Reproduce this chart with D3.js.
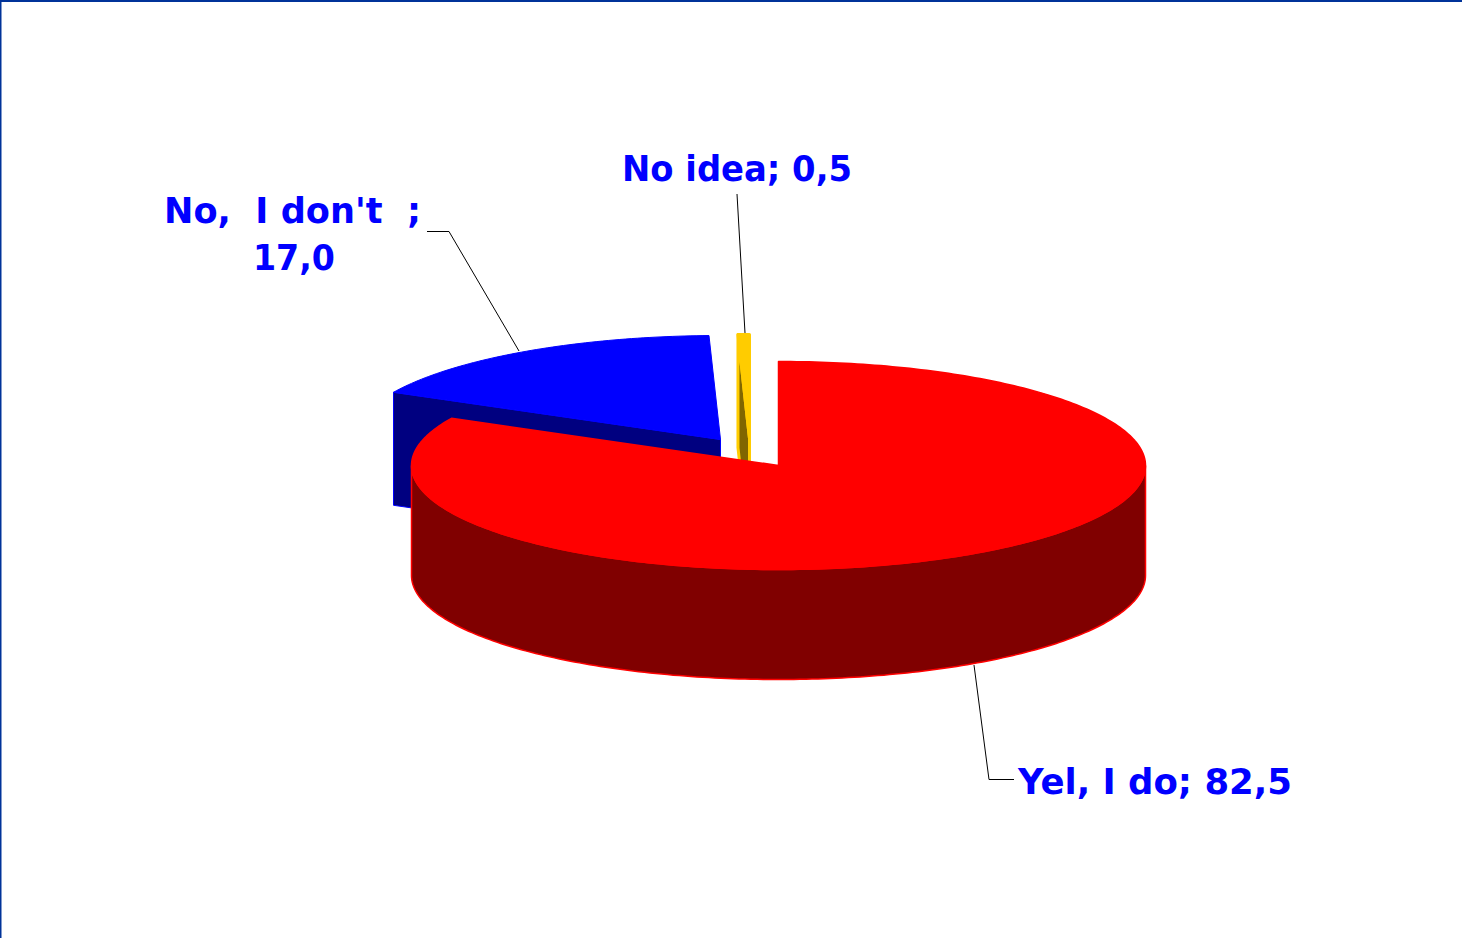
<!DOCTYPE html>
<html>
<head>
<meta charset="utf-8">
<script src="https://cdnjs.cloudflare.com/ajax/libs/d3/7.8.5/d3.min.js"></script>
<style>
  html, body { margin: 0; padding: 0; background: #fff; overflow: hidden; }
  text { font-family: 'DejaVu Sans', sans-serif; font-weight: bold; fill: #0000ff; font-size: 36px; white-space: pre; }
</style>
</head>
<body>
<div id="chart"></div>
<script>
const categories = ['Yel, I do', "No,  I don't  ", 'No idea']
const values = [82.5, 17.0, 0.5]

const width = 1462
const height = 938
const rx = 367
const ry = 104

// where each slice got pulled to, and how it is painted
const slices = [
  { cx: 778.5, cy: 465.5, depth: 110, top: '#ff0000', side: '#800000', edge: '#ff0000', sw: 1.5 },
  { cx: 720.5, cy: 439.5, depth: 113, top: '#0000ff', side: '#000080', edge: '#0000ff', sw: 1 },
  { cx: 749.5, cy: 438.5, depth: 113, top: '#ffcc00', side: '#806600', edge: '#ffcc00', sw: 3 }
]

const svg = d3
  .select('#chart')
  .append('svg')
  .attr('width', width)
  .attr('height', height)

// frame on the top and left only
svg.append('rect').attr('width', width).attr('height', 2).attr('fill', '#003399')
svg.append('rect').attr('width', 1.5).attr('height', height).attr('fill', '#003399')

const pie = d3.pie().sort(null).startAngle(0).endAngle(2 * Math.PI)
const arcs = pie(values)

const line = d3.line()

function point(s, a, drop = 0) {
  return [s.cx + rx * Math.sin(a), s.cy - ry * Math.cos(a) + drop]
}

function sample(a0, a1) {
  const n = Math.max(2, Math.ceil(Math.abs(a1 - a0) * 60))
  return d3.range(n + 1).map(i => a0 + ((a1 - a0) * i) / n)
}

// draw back to front: blue, yellow, then the big red one
const order = [1, 2, 0]

order.forEach(i => {
  const a = arcs[i]
  const s = slices[i]
  const g = svg.append('g').attr('class', 'slice')

  // cut face on the slice's start angle side, the red one hides its own
  if (i !== 0) {
    const facePts = [
      point(s, a.startAngle),
      [s.cx, s.cy],
      [s.cx, s.cy + s.depth],
      point(s, a.startAngle, s.depth)
    ]
    g.append('path')
      .attr('d', line(facePts) + 'Z')
      .attr('fill', s.side)
      .attr('stroke', s.edge)
      .attr('stroke-width', s.sw)
      .attr('stroke-linejoin', 'round')
  }

  // outer wall, only the front half of the ellipse shows
  const w0 = Math.max(a.startAngle, Math.PI / 2)
  const w1 = Math.min(a.endAngle, (3 * Math.PI) / 2)
  if (w1 > w0) {
    const front = sample(w0, w1).map(t => point(s, t))
    const back = sample(w1, w0).map(t => point(s, t, s.depth))
    g.append('path')
      .attr('d', line(front.concat(back)) + 'Z')
      .attr('fill', s.side)
      .attr('stroke', s.edge)
      .attr('stroke-width', s.sw)
  }

  const rim = sample(a.startAngle, a.endAngle).map(t => point(s, t))
  g.append('path')
    .attr('d', line([[s.cx, s.cy]].concat(rim)) + 'Z')
    .attr('fill', s.top)
    .attr('stroke', s.edge)
    .attr('stroke-width', s.sw)
    .attr('stroke-linejoin', 'round')
})

// leader lines
const leaders = [
  [[1014, 779.5], [989, 779.5], [974, 665]],
  [[427, 231.5], [449, 231.5], [519, 351]],
  [[737, 194], [745, 333]]
]

svg
  .selectAll('.leader')
  .data(leaders)
  .join('path')
  .attr('class', 'leader')
  .attr('d', d => line(d))
  .attr('fill', 'none')
  .attr('stroke', '#000')
  .attr('stroke-width', 1)

const labelRows = [
  { text: categories[0] + '; ' + values[0].toFixed(1).replace('.', ','), x: 1018, y: 793.5, len: 274 },
  { text: categories[1] + ';', x: 164, y: 223, len: 257 },
  { text: values[1].toFixed(1).replace('.', ','), x: 253, y: 270, len: 82 },
  { text: categories[2] + '; ' + values[2].toFixed(1).replace('.', ','), x: 622, y: 181, len: 230 }
]

svg
  .selectAll('.label')
  .data(labelRows)
  .join('text')
  .attr('class', 'label')
  .attr('x', d => d.x)
  .attr('y', d => d.y)
  .attr('textLength', d => d.len)
  .attr('lengthAdjust', 'spacingAndGlyphs')
  .text(d => d.text)
</script>
</body>
</html>
